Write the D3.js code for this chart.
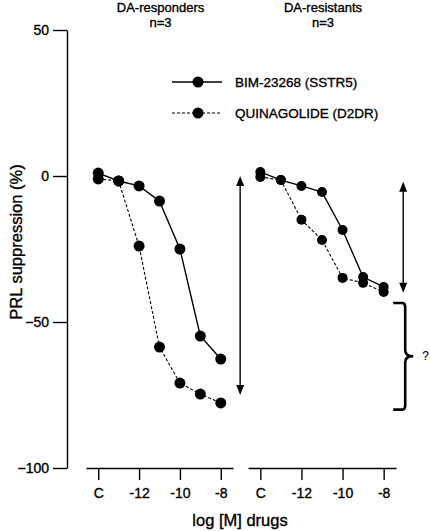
<!DOCTYPE html>
<html><head><meta charset="utf-8">
<script src="https://cdn.jsdelivr.net/npm/d3@7"></script>
<style>
body{margin:0;background:#fff;}
svg{display:block;font-family:Arial,"Liberation Sans",Helvetica,sans-serif;}
svg text{stroke:#000;stroke-width:0.35px;fill:#000;}
</style></head>
<body><svg id="c" width="430" height="531"></svg>
<script>
// ---- data ----
const doses = [-14, -13, -12, -11, -10, -9, -8];        // -14 stands for control "C"
const xTickValues = [-14, -12, -10, -8];
const xTickLabels = ["C", "-12", "-10", "-8"];
const yTickValues = [50, 0, -50, -100];
const panels = ["DA-responders", "DA-resistants"];
const panelN = ["n=3", "n=3"];
const seriesNames = ["BIM-23268 (SSTR5)", "QUINAGOLIDE (D2DR)"];
const respBIM   = [1.0, -1.7, -3.4, -8.6, -25.0, -54.8, -62.7];
const respQUIN  = [-1.0, -1.7, -24.0, -58.6, -70.9, -74.7, -77.7];
const resiBIM   = [1.4, -1.4, -3.4, -5.5, -18.5, -34.6, -38.0];
const resiQUIN  = [-0.3, -1.4, -15.0, -21.9, -34.9, -36.6, -39.7];
const respArrow = [0, -75];      // range of response, responders
const resiArrow = [-2, -40];     // range of response, resistants
const braceRange = [-43.5, -80]; // missing response
const arrowDose = -7.05;

const svg = d3.select("#c");
const y = d3.scaleLinear().domain([-100, 50]).range([468, 30]);
const xL = d3.scaleLinear().domain([-14.6, -7.4]).range([86, 233]);
const xR = d3.scaleLinear().domain([-14.6, -7.4]).range([248, 396]);

// y axis
const yAx = svg.append("g").attr("transform", "translate(67,0)")
  .call(d3.axisLeft(y).tickValues(yTickValues).tickSize(14).tickSizeOuter(0).tickPadding(4));
yAx.select(".domain").attr("stroke-width", 1.4);
yAx.selectAll(".tick line").attr("stroke-width", 1.4);
yAx.selectAll("text").attr("font-size", 14).attr("font-family", "Arial,'Liberation Sans',sans-serif");

svg.append("text").attr("transform", "translate(22,242) rotate(-90)")
  .attr("text-anchor", "middle").attr("font-size", 16.5).text("PRL suppression (%)");

// x axes
[xL, xR].forEach(sc => {
  const g = svg.append("g").attr("transform", `translate(0,${y(-100)})`)
    .call(d3.axisBottom(sc).tickValues(xTickValues).tickSize(12).tickSizeOuter(0).tickPadding(8)
      .tickFormat((d, i) => xTickLabels[i]));
  g.select(".domain").attr("stroke-width", 1.4);
  g.selectAll(".tick line").attr("stroke-width", 1.4);
  g.selectAll("text").attr("font-size", 14).attr("font-family", "Arial,'Liberation Sans',sans-serif");
});
svg.append("text").attr("x", 240).attr("y", 526).attr("text-anchor", "middle")
  .attr("font-size", 16.5).text("log [M] drugs");

// titles
[xL, xR].forEach((sc, i) => {
  const cx = sc(-11);
  svg.append("text").attr("x", cx + 1).attr("y", 12).attr("text-anchor", "middle").attr("font-size", 13).text(panels[i]);
  svg.append("text").attr("x", cx + 1).attr("y", 27).attr("text-anchor", "middle").attr("font-size", 13).text(panelN[i]);
});

// series
function drawSeries(sc, vals, dashed, r) {
  const line = d3.line().x((d, i) => sc(doses[i])).y(d => y(d));
  svg.append("path").datum(vals).attr("d", line).attr("fill", "none").attr("stroke", "#000")
    .attr("stroke-width", dashed ? 1.1 : 1.4).attr("stroke-dasharray", dashed ? "3,2" : null);
  svg.append("g").selectAll("circle").data(vals).join("circle")
    .attr("cx", (d, i) => sc(doses[i])).attr("cy", d => y(d)).attr("r", r).attr("fill", "#000");
}
drawSeries(xL, respQUIN, true, 5.5);
drawSeries(xL, respBIM, false, 5.5);
drawSeries(xR, resiQUIN, true, 5);
drawSeries(xR, resiBIM, false, 5);

// legend
seriesNames.forEach((name, i) => {
  const ly = 82 + i * 31;
  svg.append("line").attr("x1", 172).attr("x2", 222).attr("y1", ly).attr("y2", ly)
    .attr("stroke", "#000").attr("stroke-width", i ? 1.1 : 1.4).attr("stroke-dasharray", i ? "3,2" : null);
  svg.append("circle").attr("cx", 198).attr("cy", ly).attr("r", 5.5).attr("fill", "#000");
  svg.append("text").attr("x", 235).attr("y", ly + 5).attr("font-size", 13.5).text(name);
});

// double arrows
function dArrow(x, v0, v1) {
  const y0 = y(v0), y1 = y(v1);
  svg.append("line").attr("x1", x).attr("x2", x).attr("y1", y0 + 8).attr("y2", y1 - 8)
    .attr("stroke", "#000").attr("stroke-width", 1.4);
  svg.append("path").attr("d", `M${x},${y0} L${x - 4},${y0 + 10} L${x + 4},${y0 + 10} Z`).attr("fill", "#000");
  svg.append("path").attr("d", `M${x},${y1} L${x - 4},${y1 - 10} L${x + 4},${y1 - 10} Z`).attr("fill", "#000");
}
dArrow(xL(arrowDose), respArrow[0], respArrow[1]);
dArrow(xR(arrowDose), resiArrow[0], resiArrow[1]);

// brace
const bx = xR(arrowDose), bt = y(braceRange[0]), bb = y(braceRange[1]), bm = (bt + bb) / 2;
svg.append("path").attr("d",
  `M${bx - 10},${bt} L${bx - 1},${bt} Q${bx + 2},${bt} ${bx + 2},${bt + 4} L${bx + 2},${bm - 6} Q${bx + 2},${bm} ${bx + 10},${bm}` +
  ` Q${bx + 2},${bm} ${bx + 2},${bm + 6} L${bx + 2},${bb - 4} Q${bx + 2},${bb} ${bx - 1},${bb} L${bx - 10},${bb}`)
  .attr("fill", "none").attr("stroke", "#000").attr("stroke-width", 2.6);
svg.append("text").attr("x", bx + 19).attr("y", bm + 4).attr("font-size", 12).style("stroke-width", "0.1px").text("?");
</script></body></html>
